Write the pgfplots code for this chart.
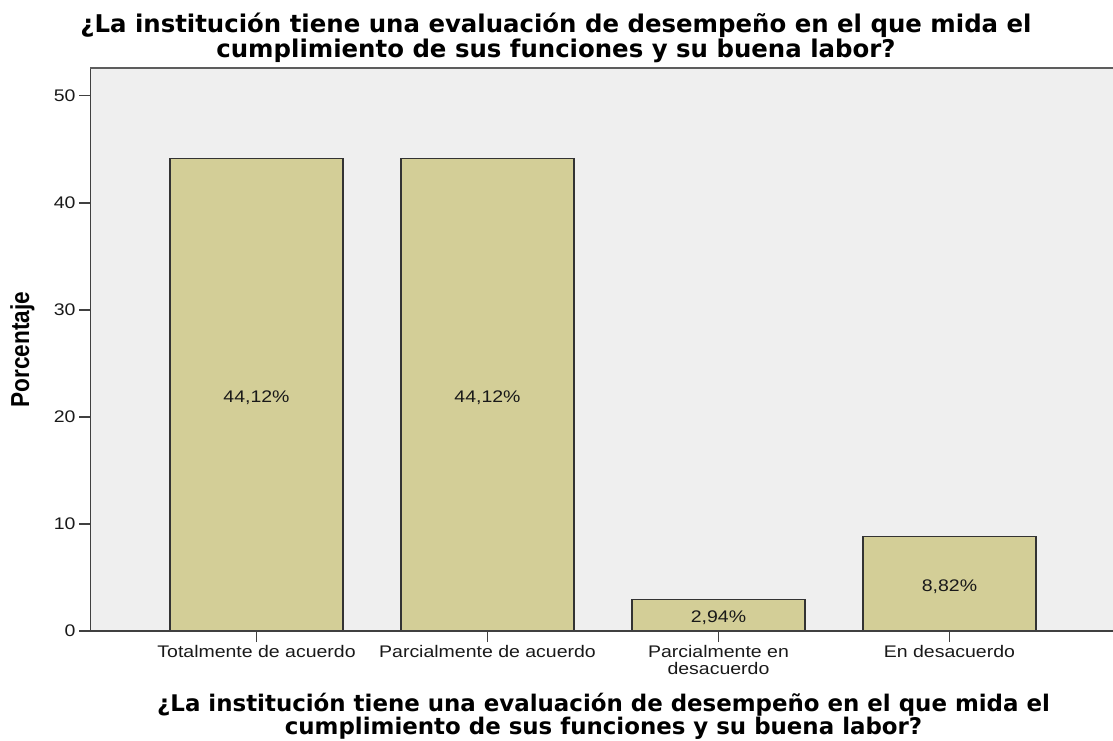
\documentclass[border=0pt]{standalone}
\usepackage{fontspec}
\usepackage{pgfplots}
\pgfplotsset{compat=1.18}
\newfontfamily\tickfont{Liberation Sans}[FakeStretch=1.16]
\newfontfamily\ylabfont{Liberation Sans}[FakeStretch=0.87]
\newfontfamily\titlefont{DejaVu Sans}
\definecolor{bgcol}{RGB}{239,239,239}
\definecolor{barfill}{RGB}{211,206,151}
\definecolor{axcol}{RGB}{64,64,64}
\begin{document}
\begin{tikzpicture}[x=1pt,y=1pt]
\useasboundingbox (0,0) rectangle (1113,740);
\begin{axis}[
  at={(90pt,109pt)}, anchor=south west,
  scale only axis, width=1023pt, height=563pt,
  xmin=-0.721, xmax=3.708, ymin=0, ymax=52.6,
  axis background/.style={fill=bgcol},
  axis line style={draw=none},
  xtick={0,1,2,3},
  xticklabels={Totalmente de acuerdo, Parcialmente de acuerdo, {Parcialmente en\\desacuerdo}, En desacuerdo},
  ytick={0,10,20,30,40,50},
  tick align=outside, xtick pos=bottom, ytick pos=left,
  major tick length=11pt,
  tick style={line width=1.3pt, color=axcol},
  tick label style={font=\tickfont\fontsize{16.8}{17}\selectfont, text=black!90},
  x tick label style={align=center},
  /pgf/number format/assume math mode=true,
  every axis title shift=0pt,
  title={¿La institución tiene una evaluación de desempeño en el que mida el\\cumplimiento de sus funciones y su buena labor?},
  title style={font=\titlefont\bfseries\fontsize{24.4}{22}\selectfont, align=center, inner sep=0pt,
    at={(axis description cs:0.4555,1)}, anchor=south, yshift=5pt},
  xlabel={¿La institución tiene una evaluación de desempeño en el que mida el\\cumplimiento de sus funciones y su buena labor?},
  xlabel style={font=\titlefont\bfseries\fontsize{22.9}{22}\selectfont, align=center, inner sep=0pt,
    at={(axis description cs:0.502,0)}, anchor=north, yshift=-62pt},
  ylabel={Porcentaje},
  ylabel style={font=\ylabfont\bfseries\fontsize{26}{28}\selectfont, inner sep=0pt,
    at={(axis description cs:0,0.5)}, anchor=center, yshift=67.5pt},
]
\addplot[ybar, bar width=0.749, fill=barfill, draw=black!80, line width=1.3pt]
  coordinates {(0,44.12) (1,44.12) (2,2.94) (3,8.82)};
\addplot[draw=none, mark=none, nodes near coords, point meta=explicit symbolic,
  every node near coord/.append style={anchor=center, yshift=-2.5pt, text=black!90,
    font=\tickfont\fontsize{16.8}{17}\selectfont}]
  coordinates {(0,22.06) [44,12\%] (1,22.06) [44,12\%] (2,1.47) [2,94\%] (3,4.41) [8,82\%]};
\draw[axcol, line width=2pt] (rel axis cs:0,0) -- (rel axis cs:1,0);
\draw[axcol, line width=2pt] (rel axis cs:0,0) -- (rel axis cs:0,1);
\draw[axcol!85, line width=2.5pt] (rel axis cs:0,1) -- (rel axis cs:1,1);
\end{axis}
\end{tikzpicture}
\end{document}
